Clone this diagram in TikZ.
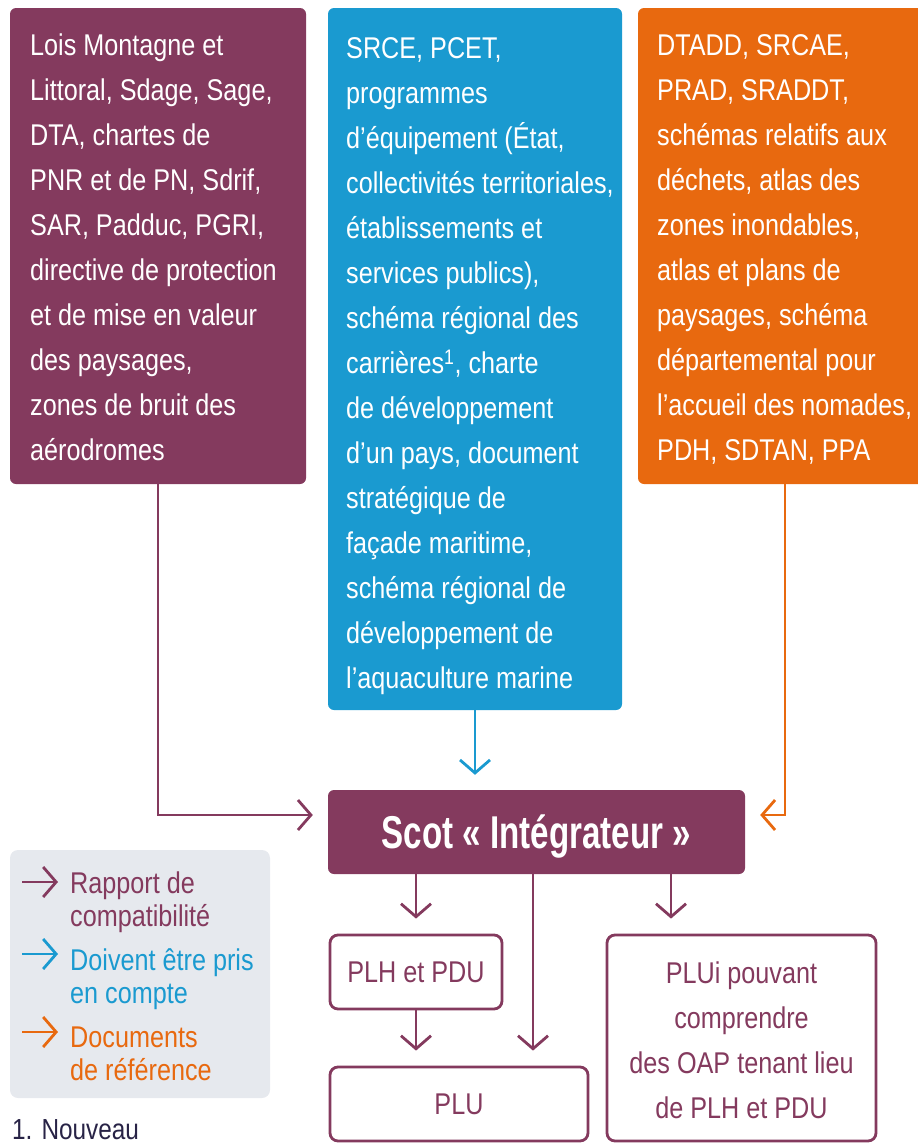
\documentclass[tikz,border=0pt]{standalone}
\usepackage{fontspec}
\setmainfont[FakeStretch=0.84]{Liberation Sans}
\newfontfamily\scotfont[FakeStretch=0.72]{Liberation Sans}
\usetikzlibrary{arrows.meta}
\definecolor{scotred}{RGB}{132,58,94}
\definecolor{docblue}{RGB}{26,154,208}
\definecolor{docorange}{RGB}{232,105,15}
\definecolor{legendbg}{RGB}{230,233,238}
\definecolor{footnav}{RGB}{40,35,70}
\newcommand\mystrut{\rule{0pt}{30pt}}
\tikzset{
  colbox/.style={rectangle, rounded corners=6pt, inner sep=0pt, draw=none, fill=#1},
  whitebox/.style={rectangle, rounded corners=8pt, inner sep=0pt, draw=scotred, line width=2.8pt, fill=white},
  boxtext/.style={anchor=north west, inner sep=0pt, align=left, text=white, font=\fontsize{30}{45}\selectfont},
  darktext/.style={inner sep=0pt, text=scotred, font=\fontsize{30}{45}\selectfont},
  legtext/.style={anchor=north west, inner sep=0pt, align=left, text=#1, font=\fontsize{30}{33}\selectfont},
  arr/.style={draw=#1, line width=2.8pt, -{Straight Barb[length=13pt,width=30pt]}, shorten >=15pt},
  legarr/.style={draw=#1, line width=2.8pt, -{Straight Barb[length=13pt,width=30pt]}}
}
\begin{document}
\begin{tikzpicture}[x=1pt,y=-1pt]
\useasboundingbox (0,0) rectangle (918,1143);

% top boxes
\node[colbox=scotred, minimum width=296pt, minimum height=476pt] (left) at (158,246) {};
\node[colbox=docblue, minimum width=294pt, minimum height=702pt] (blue) at (475,359) {};
\node[colbox=docorange, minimum width=294pt, minimum height=476pt] (orange) at (785,246) {};

\node[boxtext] (lefttxt) at (30,25) {\mystrut Lois Montagne et\\
Littoral, Sdage, Sage,\\
DTA, chartes de\\
PNR et de PN, Sdrif,\\
SAR, Padduc, PGRI,\\
directive de protection\\
et de mise en valeur\\
des paysages,\\
zones de bruit des\\
aérodromes};

\node[boxtext] (bluetxt) at (346,28) {\mystrut SRCE, PCET,\\
programmes\\
d’équipement (État,\\
collectivités territoriales,\\
établissements et\\
services publics),\\
schéma régional des\\
carrières\textsuperscript{1}, charte\\
de développement\\
d’un pays, document\\
stratégique de\\
façade maritime,\\
schéma régional de\\
développement de\\
l’aquaculture marine};

\node[boxtext] (orangetxt) at (657,25) {\mystrut DTADD, SRCAE,\\
PRAD, SRADDT,\\
schémas relatifs aux\\
déchets, atlas des\\
zones inondables,\\
atlas et plans de\\
paysages, schéma\\
départemental pour\\
l’accueil des nomades,\\
PDH, SDTAN, PPA};

% Scot
\node[colbox=scotred, minimum width=417pt, minimum height=84pt, text=white,
      text height=33pt, text depth=0pt,
      font=\scotfont\bfseries\fontsize{46}{50}\selectfont] (scot) at (536.5,832) {Scot « Intégrateur »};

% lower boxes
\node[whitebox, minimum width=172pt, minimum height=74pt] (plh) at (416,972) {};
\node[darktext] (plhtxt) at (plh.center) {PLH et PDU};
\node[whitebox, minimum width=258pt, minimum height=74pt] (plu) at (459,1104) {};
\node[darktext] (plutxt) at (plu.center) {PLU};
\node[whitebox, minimum width=269pt, minimum height=206pt] (plui) at (741.5,1038) {};
\node[darktext, anchor=north, align=center] (pluitxt) at (741.5,953) {\mystrut PLUi pouvant\\
comprendre\\
des OAP tenant lieu\\
de PLH et PDU};

% connectors
\coordinate (midx) at (533,0);
\coordinate (rightx) at (671,0);
\draw[arr=scotred] (left.south) |- ([yshift=17pt]scot.west);
\draw[arr=docblue] (blue.south) -- (blue.south |- scot.north);
\draw[arr=docorange] (orange.south) |- ([yshift=17pt]scot.east);
\draw[arr=scotred] (scot.south -| plh.north) -- (plh.north);
\draw[arr=scotred] (scot.south -| midx) -- (plu.north -| midx);
\draw[arr=scotred] (scot.south -| rightx) -- (plui.north -| rightx);
\draw[arr=scotred] (plh.south) -- (plh.south |- plu.north);

% legend
\node[rectangle, rounded corners=8pt, fill=legendbg, minimum width=260pt, minimum height=248pt, inner sep=0pt] (legend) at (140,974) {};
\coordinate (la1) at (22,882); \coordinate (lb1) at (58,882);
\coordinate (la2) at (22,954); \coordinate (lb2) at (58,954);
\coordinate (la3) at (22,1032); \coordinate (lb3) at (58,1032);
\draw[legarr=scotred] (la1) -- (lb1);
\draw[legarr=docblue] (la2) -- (lb2);
\draw[legarr=docorange] (la3) -- (lb3);
\node[legtext=scotred] (lt1) at (70,863) {\mystrut Rapport de\\compatibilité};
\node[legtext=docblue] (lt2) at (70,940) {\mystrut Doivent être pris\\en compte};
\node[legtext=docorange] (lt3) at (70,1017) {\mystrut Documents\\de référence};

% footnote
\node[anchor=base west, inner sep=0pt, text=footnav, font=\fontsize{29}{33}\selectfont] (foot) at (12,1139) {1. Nouveau};
\end{tikzpicture}
\end{document}
